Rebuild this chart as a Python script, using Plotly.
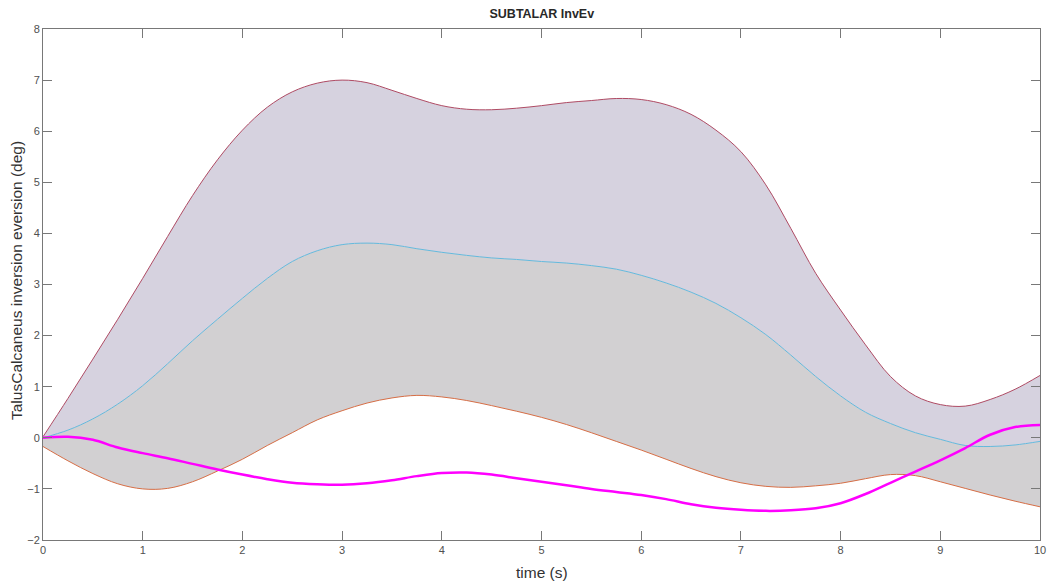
import plotly.graph_objects as go

# Sample times (s)
time_s = [0, 0.25, 0.5, 0.75, 1, 1.25, 1.5, 1.75, 2, 2.25, 2.5, 2.75, 3, 3.25, 3.5, 3.75,
          4, 4.25, 4.5, 4.75, 5, 5.25, 5.5, 5.75, 6, 6.25, 6.5, 6.75, 7, 7.25, 7.5, 7.75,
          8, 8.25, 8.5, 8.75, 9, 9.25, 9.5, 9.75, 10]

# Band upper bound (deg)
upper_deg = [0.02, 0.77, 1.54, 2.32, 3.12, 3.94, 4.74, 5.44, 6.02, 6.47, 6.77, 6.94, 7.0, 6.95,
             6.8, 6.64, 6.5, 6.43, 6.42, 6.45, 6.5, 6.56, 6.6, 6.64, 6.62, 6.52, 6.33, 6.02,
             5.6, 4.95, 4.1, 3.22, 2.5, 1.82, 1.2, 0.82, 0.65, 0.62, 0.75, 0.95, 1.22]
# Band mean (deg)
mean_deg = [0.0, 0.15, 0.37, 0.66, 1.02, 1.45, 1.9, 2.32, 2.73, 3.12, 3.45, 3.66, 3.78, 3.81,
            3.78, 3.7, 3.63, 3.57, 3.52, 3.49, 3.45, 3.42, 3.37, 3.3, 3.18, 3.03, 2.85, 2.63,
            2.35, 2.02, 1.62, 1.2, 0.82, 0.5, 0.28, 0.1, -0.03, -0.15, -0.17, -0.14, -0.07]
# Band lower bound (deg)
lower_deg = [-0.17, -0.45, -0.7, -0.9, -1.0, -0.99, -0.86, -0.65, -0.42, -0.15, 0.1, 0.35,
             0.53, 0.68, 0.78, 0.83, 0.8, 0.73, 0.63, 0.52, 0.4, 0.26, 0.1, -0.07, -0.24,
             -0.42, -0.6, -0.76, -0.88, -0.95, -0.97, -0.94, -0.89, -0.8, -0.72, -0.74, -0.86,
             -0.99, -1.12, -1.24, -1.35]
# Subject trial (deg)
trial_deg = [0.0, 0.02, -0.04, -0.19, -0.3, -0.4, -0.51, -0.62, -0.72, -0.81, -0.88, -0.91,
             -0.92, -0.89, -0.83, -0.75, -0.69, -0.68, -0.72, -0.79, -0.86, -0.93, -1.0, -1.06,
             -1.12, -1.2, -1.3, -1.37, -1.41, -1.43, -1.42, -1.38, -1.28, -1.1, -0.88, -0.66,
             -0.44, -0.2, 0.06, 0.21, 0.25]

x_ticks = list(range(0, 11))
y_ticks = list(range(-2, 9))

FONT = "Liberation Sans, Arial, Helvetica, sans-serif"

fig = go.Figure()

fig.add_trace(go.Scatter(
    x=time_s, y=lower_deg, mode="lines",
    line=dict(color="rgb(214,110,70)", width=1, shape="spline", smoothing=1.0),
    showlegend=False,
))
fig.add_trace(go.Scatter(
    x=time_s, y=mean_deg, mode="lines", fill="tonexty",
    fillcolor="rgb(210,208,210)",
    line=dict(color="rgb(100,185,220)", width=1, shape="spline", smoothing=1.0),
    showlegend=False,
))
fig.add_trace(go.Scatter(
    x=time_s, y=upper_deg, mode="lines", fill="tonexty",
    fillcolor="rgb(214,210,223)",
    line=dict(color="rgb(175,75,100)", width=1, shape="spline", smoothing=1.0),
    showlegend=False,
))
fig.add_trace(go.Scatter(
    x=time_s, y=trial_deg, mode="lines",
    line=dict(color="#FF00FF", width=2.5, shape="spline", smoothing=1.0),
    showlegend=False,
))

axis_common = dict(
    showgrid=False, zeroline=False, showline=True, mirror="ticks",
    linecolor="rgb(120,120,120)", linewidth=1, automargin=False,
    ticks="inside", ticklen=9, tickwidth=1, tickcolor="rgb(120,120,120)",
    tickfont=dict(family=FONT, size=11, color="rgb(80,80,80)"),
)

label_font = dict(family=FONT, size=15.5, color="rgb(50,50,50)")

fig.update_layout(
    width=1049, height=582,
    margin=dict(l=43, r=9, t=29, b=42),
    paper_bgcolor="white", plot_bgcolor="white",
    title=dict(text="<b>SUBTALAR InvEv</b>", x=0.5165, xanchor="center", y=0.976, yanchor="middle",
               font=dict(family=FONT, size=12.5, color="rgb(40,40,40)")),
    xaxis=dict(range=[0, 10], tickvals=x_ticks, **axis_common),
    yaxis=dict(range=[-2, 8], tickvals=y_ticks, **axis_common),
    annotations=[
        dict(text="time (s)", xref="paper", yref="paper", x=0.5, y=-0.063,
             xanchor="center", yanchor="middle", showarrow=False, font=label_font),
        dict(text="TalusCalcaneus inversion eversion (deg)", xref="paper", yref="paper",
             x=-0.026, y=0.507, xanchor="center", yanchor="middle", textangle=-90,
             showarrow=False, font=label_font),
    ],
)

fig.write_html("out.html")
